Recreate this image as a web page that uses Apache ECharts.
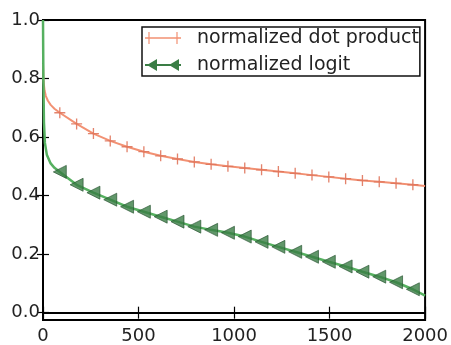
<!DOCTYPE html>
<html>
<head>
<meta charset="utf-8">
<script src="https://cdn.jsdelivr.net/npm/echarts@6/dist/echarts.min.js"></script>
<style>
html,body{margin:0;padding:0;background:#fff;}
#chart{width:451px;height:345px;}
</style>
</head>
<body>
<div id="chart"></div>
<script>
// ---- data ----
const seriesNames = ['normalized dot product', 'normalized logit'];
const dotX = [0, 3, 8, 15, 25, 40, 60, 88, 176, 264, 352, 440, 528, 616, 704, 792, 880, 968, 1056, 1144, 1232, 1320, 1408, 1496, 1584, 1672, 1760, 1848, 1936, 2000];
const dotY = [0.85, 0.79, 0.76, 0.74, 0.725, 0.71, 0.697, 0.683, 0.645, 0.612, 0.587, 0.567, 0.55, 0.536, 0.525, 0.515, 0.507, 0.5, 0.494, 0.488, 0.482, 0.476, 0.47, 0.464, 0.458, 0.452, 0.447, 0.442, 0.437, 0.433];
const logitX = [0, 2, 5, 10, 20, 40, 60, 88, 176, 264, 352, 440, 528, 616, 704, 792, 880, 968, 1056, 1144, 1232, 1320, 1408, 1496, 1584, 1672, 1760, 1848, 1936, 2000];
const logitY = [1.0, 0.8, 0.65, 0.58, 0.54, 0.51, 0.495, 0.481, 0.437, 0.41, 0.386, 0.362, 0.345, 0.328, 0.311, 0.294, 0.283, 0.273, 0.26, 0.242, 0.225, 0.208, 0.191, 0.174, 0.158, 0.14, 0.123, 0.104, 0.08, 0.058];
const markerX = [88, 176, 264, 352, 440, 528, 616, 704, 792, 880, 968, 1056, 1144, 1232, 1320, 1408, 1496, 1584, 1672, 1760, 1848, 1936];
const xTicks = [0, 500, 1000, 1500, 2000];
const yTicks = [0.0, 0.2, 0.4, 0.6, 0.8, 1.0];

// ---- build ----
const pairs = (xs, ys) => xs.map((x, i) => [x, ys[i]]);
const pick = (xs, ys) => markerX.map(m => [m, ys[xs.indexOf(m)]]);

const ORANGE = '#f29173', ORANGE_M = '#e0755c';
const GREEN = '#56b060', GREEN_M = '#3a7d45';
const PLUS = 'path://M4.4,0H5.6V4.4H10V5.6H5.6V10H4.4V5.6H0V4.4H4.4Z';
const LTRI = 'path://M0,5L10,0L10,10Z';
const PLUS_LEG = 'path://M0,5.2H36V6.8H0Z M3.4,0H4.6V12H3.4Z M31.4,0H32.6V12H31.4Z';
const TRI_LEG = 'path://M0,5H36V7H0Z M2,6L12,0L12,12Z M24,6L34,0L34,12Z';

const font = 'DejaVu Sans';
const tickStyle = {show: true, inside: true, length: 6, lineStyle: {color: '#000', width: 1.2}};
const lineAx = {show: true, lineStyle: {color: '#000', width: 2}};

const chart = echarts.init(document.getElementById('chart'), null, {renderer: 'canvas'});
chart.setOption({
  animation: false,
  backgroundColor: '#fff',
  grid: {left: 43, right: 23, top: 20, bottom: 25, show: true, borderColor: '#000', borderWidth: 2, backgroundColor: 'transparent'},
  legend: {
    orient: 'vertical', left: 142, top: 27,
    padding: [1, 1, 1, 3], itemGap: 7, itemWidth: 36, itemHeight: 12,
    borderColor: '#111', borderWidth: 1.5, backgroundColor: '#fff',
    textStyle: {fontFamily: font, fontSize: 19, color: '#222', lineHeight: 20, padding: [0, 0, 0, 11]},
    data: [
      {name: seriesNames[0], icon: PLUS_LEG, itemStyle: {color: ORANGE}},
      {name: seriesNames[1], icon: TRI_LEG, itemStyle: {color: GREEN_M}}
    ]
  },
  xAxis: [
    {type: 'value', min: 0, max: 2000, interval: 500, position: 'bottom',
     axisLine: lineAx, axisTick: tickStyle, splitLine: {show: false},
     axisLabel: {fontFamily: font, fontSize: 18, color: '#222', margin: 7,
       customValues: xTicks, formatter: v => String(v)}},
    {type: 'value', min: 0, max: 2000, interval: 500, position: 'top',
     axisLine: lineAx, axisTick: tickStyle, splitLine: {show: false}, axisLabel: {show: false}}
  ],
  yAxis: [
    {type: 'value', min: -0.025, max: 1.0, position: 'left',
     axisLine: lineAx, splitLine: {show: false},
     axisTick: Object.assign({}, tickStyle, {customValues: yTicks}),
     axisLabel: {fontFamily: font, fontSize: 18, color: '#222', margin: 3,
       customValues: yTicks, formatter: v => v.toFixed(1)}},
    {type: 'value', min: -0.025, max: 1.0, position: 'right',
     axisLine: lineAx, splitLine: {show: false},
     axisTick: Object.assign({}, tickStyle, {customValues: yTicks}),
     axisLabel: {show: false}}
  ],
  series: [
    {name: seriesNames[0], type: 'line', data: pairs(dotX, dotY), showSymbol: false, symbol: 'none',
     lineStyle: {color: ORANGE, width: 2}, itemStyle: {color: ORANGE}, z: 2},
    {name: seriesNames[1], type: 'line', data: pairs(logitX, logitY), showSymbol: false, symbol: 'none',
     lineStyle: {color: GREEN, width: 2.5}, itemStyle: {color: GREEN_M}, z: 2},
    {type: 'scatter', data: pick(dotX, dotY), symbol: PLUS, symbolSize: 11,
     itemStyle: {color: ORANGE_M, opacity: 0.9}, z: 3, silent: true},
    {type: 'scatter', data: pick(logitX, logitY), symbol: LTRI, symbolSize: 13,
     itemStyle: {color: GREEN_M, borderColor: '#234f2c', borderWidth: 0.8}, z: 3, silent: true}
  ]
});
</script>
</body>
</html>
